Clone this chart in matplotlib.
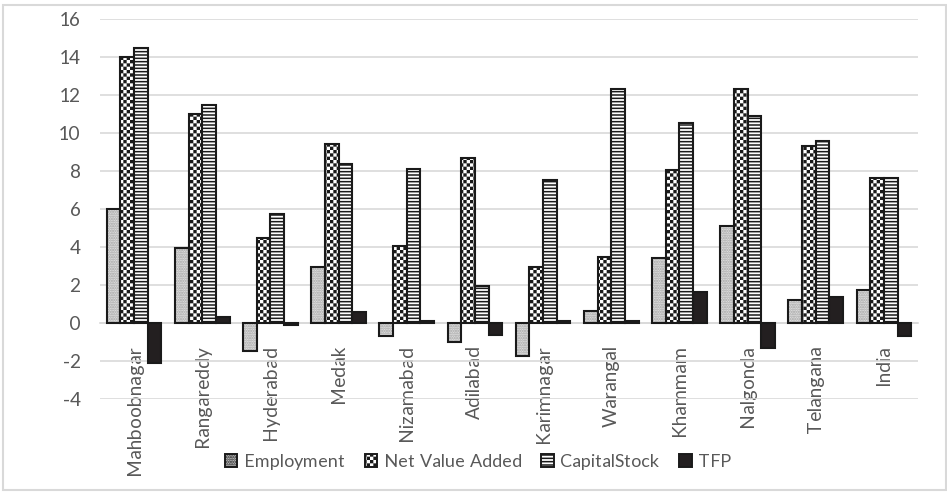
import warnings
import numpy as np
import matplotlib
matplotlib.use("Agg")
import matplotlib.pyplot as plt
import matplotlib.patches as mpatches
from matplotlib import hatch as mhatch
from matplotlib.path import Path

# Growth rates (%) by district
districts = ["Mahboobnagar", "Rangareddy", "Hyderabad", "Medak", "Nizamabad", "Adilabad",
             "Karimnagar", "Warangal", "Khammam", "Nalgonda", "Telangana", "India"]
employment = [6.0, 3.95, -1.45, 2.95, -0.7, -1.0, -1.75, 0.65, 3.4, 5.1, 1.2, 1.75]
net_value_added = [14.0, 11.0, 4.5, 9.4, 4.05, 8.7, 2.95, 3.5, 8.05, 12.3, 9.3, 7.65]
capital_stock = [14.5, 11.45, 5.75, 8.35, 8.1, 1.95, 7.55, 12.3, 10.55, 10.9, 9.6, 7.65]
tfp = [-2.1, 0.3, -0.1, 0.6, 0.08, -0.65, 0.08, 0.08, 1.65, -1.3, 1.35, -0.7]
series_names = ["Employment", "Net Value Added", "CapitalStock", "TFP"]
y_ticks = [-4, -2, 0, 2, 4, 6, 8, 10, 12, 14, 16]


# checkerboard fill, used with hatch='k'
class CheckerHatch(mhatch.HatchPatternBase):
    def __init__(self, hatch, density):
        self.cells = hatch.count('k') * density * 5
        self.num_vertices = (self.cells ** 2 // 2) * 5 if self.cells else 0

    def set_vertices_and_codes(self, vertices, codes):
        s = 1.0 / self.cells
        inset = plt.rcParams['hatch.linewidth'] / 144.0
        sq = np.array([[inset, inset], [s - inset, inset], [s - inset, s - inset],
                       [inset, s - inset], [inset, inset]])
        parts = [sq + [i * s, j * s] for i in range(self.cells)
                 for j in range(self.cells) if (i + j) % 2 == 0]
        vertices[:] = np.concatenate(parts)
        codes[:] = np.tile([Path.MOVETO, Path.LINETO, Path.LINETO, Path.LINETO,
                            Path.CLOSEPOLY], len(parts))


mhatch._hatch_types.append(CheckerHatch)
warnings.filterwarnings("ignore", message=".*hatch must consist.*")

plt.rcParams['font.family'] = ['Lato', 'DejaVu Sans']
plt.rcParams['hatch.linewidth'] = 1.1
# rotated labels lose their last glyph with the default hinting factor
plt.rcParams['text.hinting_factor'] = 1
text_gray = '#595959'
grid_gray = '#d9d9d9'

fig = plt.figure(figsize=(9.47, 4.93), dpi=100)
ax = fig.add_axes([100 / 947, 1 - 399 / 493, 818 / 947, 380 / 493])

x = np.arange(len(districts))
w = 0.2
offsets = [-1.5 * w, -0.5 * w, 0.5 * w, 1.5 * w]

# Employment: grey stipple, outline drawn separately in black
ax.bar(x + offsets[0], employment, w, facecolor='#e2e2e2', edgecolor='#a0a0a0',
       hatch='.......', linewidth=0, zorder=3)
ax.bar(x + offsets[0], employment, w, fill=False, edgecolor='#1a1a1a', linewidth=1.5, zorder=4)
ax.bar(x + offsets[1], net_value_added, w, facecolor='white', edgecolor='#1a1a1a',
       hatch='k', linewidth=1.5, zorder=3)
ax.bar(x + offsets[2], capital_stock, w, facecolor='white', edgecolor='#1a1a1a',
       hatch='-----', linewidth=1.5, zorder=3)
ax.bar(x + offsets[3], tfp, w, facecolor='#231f20', edgecolor='#1a1a1a',
       linewidth=1.5, zorder=3)

ax.set_xlim(-0.5, len(districts) - 0.5)
ax.set_ylim(-4, 16)
ax.set_yticks(y_ticks)
ax.set_yticklabels([str(v) for v in y_ticks])
ax.yaxis.grid(True, color=grid_gray, linewidth=1.2, zorder=0)
ax.set_axisbelow(True)

# category axis crosses at zero, labels sit just under it
for side in ['left', 'right', 'top']:
    ax.spines[side].set_visible(False)
ax.spines['bottom'].set_position(('data', 0))
ax.spines['bottom'].set_color(grid_gray)
ax.spines['bottom'].set_linewidth(1.2)
ax.spines['bottom'].set_zorder(1)
ax.set_xticks(x)
ax.set_xticklabels(districts, rotation=90, va='top', ha='center')
ax.tick_params(axis='x', length=0, pad=16, labelsize=13.5, labelcolor=text_gray)
ax.tick_params(axis='y', length=0, pad=14, labelsize=13.5, labelcolor=text_gray)

handles = [
    mpatches.Patch(facecolor='#c8c8c8', edgecolor='#1a1a1a', hatch='.......', linewidth=1.4),
    mpatches.Patch(facecolor='white', edgecolor='#1a1a1a', hatch='k', linewidth=1.4),
    mpatches.Patch(facecolor='white', edgecolor='#1a1a1a', hatch='-----', linewidth=1.4),
    mpatches.Patch(facecolor='#231f20', edgecolor='#1a1a1a', linewidth=1.4),
]
leg = fig.legend(handles, series_names, loc='center', ncol=4,
                 bbox_to_anchor=(478 / 947, 1 - 462 / 493), frameon=False,
                 fontsize=13, handlelength=0.7, handleheight=0.7,
                 handletextpad=0.35, columnspacing=1.1)
for t in leg.get_texts():
    t.set_color(text_gray)

# light frame round the whole chart
fig.patches.append(mpatches.Rectangle((3 / 947, 3 / 493), 943 / 947, 485 / 493,
                                      transform=fig.transFigure, fill=False,
                                      edgecolor=grid_gray, linewidth=1.5))

fig.savefig("out.png", dpi=100)
